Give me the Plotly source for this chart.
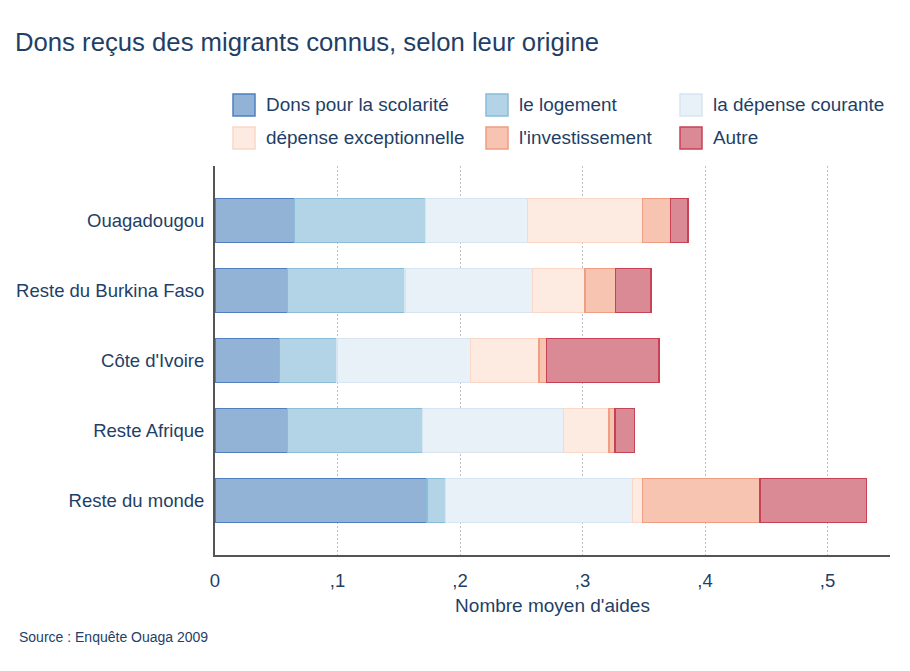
import plotly.graph_objects as go

categories = ["Ouagadougou", "Reste du Burkina Faso", "Côte d'Ivoire", "Reste Afrique", "Reste du monde"]
series_names = ["Dons pour la scolarité", "le logement", "la dépense courante",
                "dépense exceptionnelle", "l'investissement", "Autre"]
scolarite = [0.065, 0.059, 0.0525, 0.059, 0.173]
logement = [0.107, 0.096, 0.047, 0.1105, 0.015]
courante = [0.083, 0.104, 0.109, 0.115, 0.153]
exceptionnelle = [0.094, 0.043, 0.056, 0.037, 0.008]
investissement = [0.023, 0.025, 0.006, 0.005, 0.096]
autre = [0.014, 0.029, 0.092, 0.016, 0.087]
series_values = [scolarite, logement, courante, exceptionnelle, investissement, autre]
x_tick_vals = [0, 0.1, 0.2, 0.3, 0.4, 0.5]
x_tick_text = ["0", ",1", ",2", ",3", ",4", ",5"]

fills = ["#92b2d6", "#b3d3e6", "#e8f0f8", "#fdebe2", "#f6c4b1", "#d98a94"]
lines = ["#4f7fbf", "#8bbcd9", "#d6e5f1", "#fad8c7", "#ef9d83", "#c84255"]

TXT = "#1f3f66"
FONT = "Liberation Sans, Arial, sans-serif"

fig = go.Figure()
for name, vals, fc, lc in zip(series_names, series_values, fills, lines):
    fig.add_trace(go.Bar(
        y=categories, x=vals, name=name, orientation="h",
        marker=dict(color=fc, line=dict(color=lc, width=1.5)),
        width=0.63, showlegend=False,
    ))

# plot area in screen pixels
L, R, T, B = 215, 890, 166, 555
W, H = 910, 671

def px(x):
    return (x - L) / (R - L)

def py(y):
    return (B - y) / (B - T)

shapes = []
annotations = []
col_x = [233, 486, 680]
row_y = [105, 138]
for i, (name, fc, lc) in enumerate(zip(series_names, fills, lines)):
    cx = col_x[i % 3]
    cy = row_y[i // 3]
    shapes.append(dict(type="rect", xref="paper", yref="paper",
                       x0=px(cx), x1=px(cx + 22), y0=py(cy + 11), y1=py(cy - 11),
                       fillcolor=fc, line=dict(color=lc, width=1.5)))
    annotations.append(dict(text=name, xref="paper", yref="paper",
                            x=px(cx + 31), y=py(cy), xanchor="left", yanchor="middle",
                            showarrow=False, font=dict(size=18.9, color=TXT, family=FONT)))

annotations.append(dict(text="Dons reçus des migrants connus, selon leur origine",
                        xref="paper", yref="paper", x=px(13), y=py(42),
                        xanchor="left", yanchor="middle", showarrow=False,
                        font=dict(size=25.7, color=TXT, family=FONT)))
annotations.append(dict(text="Source : Enquête Ouaga 2009",
                        xref="paper", yref="paper", x=px(17), y=py(637),
                        xanchor="left", yanchor="middle", showarrow=False,
                        font=dict(size=14, color=TXT, family=FONT)))

fig.update_layout(
    barmode="stack",
    width=W, height=H,
    margin=dict(l=L, r=W - R, t=T, b=H - B),
    paper_bgcolor="white", plot_bgcolor="white",
    font=dict(family=FONT, color=TXT, size=18),
    shapes=shapes, annotations=annotations,
    xaxis=dict(range=[0, (R - L) / 1225], tickvals=x_tick_vals, ticktext=x_tick_text,
               showgrid=True, gridcolor="#bdbdbd", griddash="2px,2px", gridwidth=1,
               zeroline=False, showline=True, linecolor="#555555", linewidth=2,
               ticks="", tickfont=dict(size=18.5, color=TXT), ticklabelstandoff=8,
               title=dict(text="Nombre moyen d'aides", font=dict(size=19, color=TXT), standoff=8)),
    yaxis=dict(categoryorder="array", categoryarray=categories,
               range=[4.78, -0.78], showgrid=False, zeroline=False,
               showline=True, linecolor="#555555", linewidth=2, ticks="",
               tickfont=dict(size=18.5, color=TXT), ticklabelstandoff=5),
)

fig.write_html("out.html", config={"displayModeBar": False},
               post_script="document.body.style.margin='0';document.body.style.overflow='hidden';")
